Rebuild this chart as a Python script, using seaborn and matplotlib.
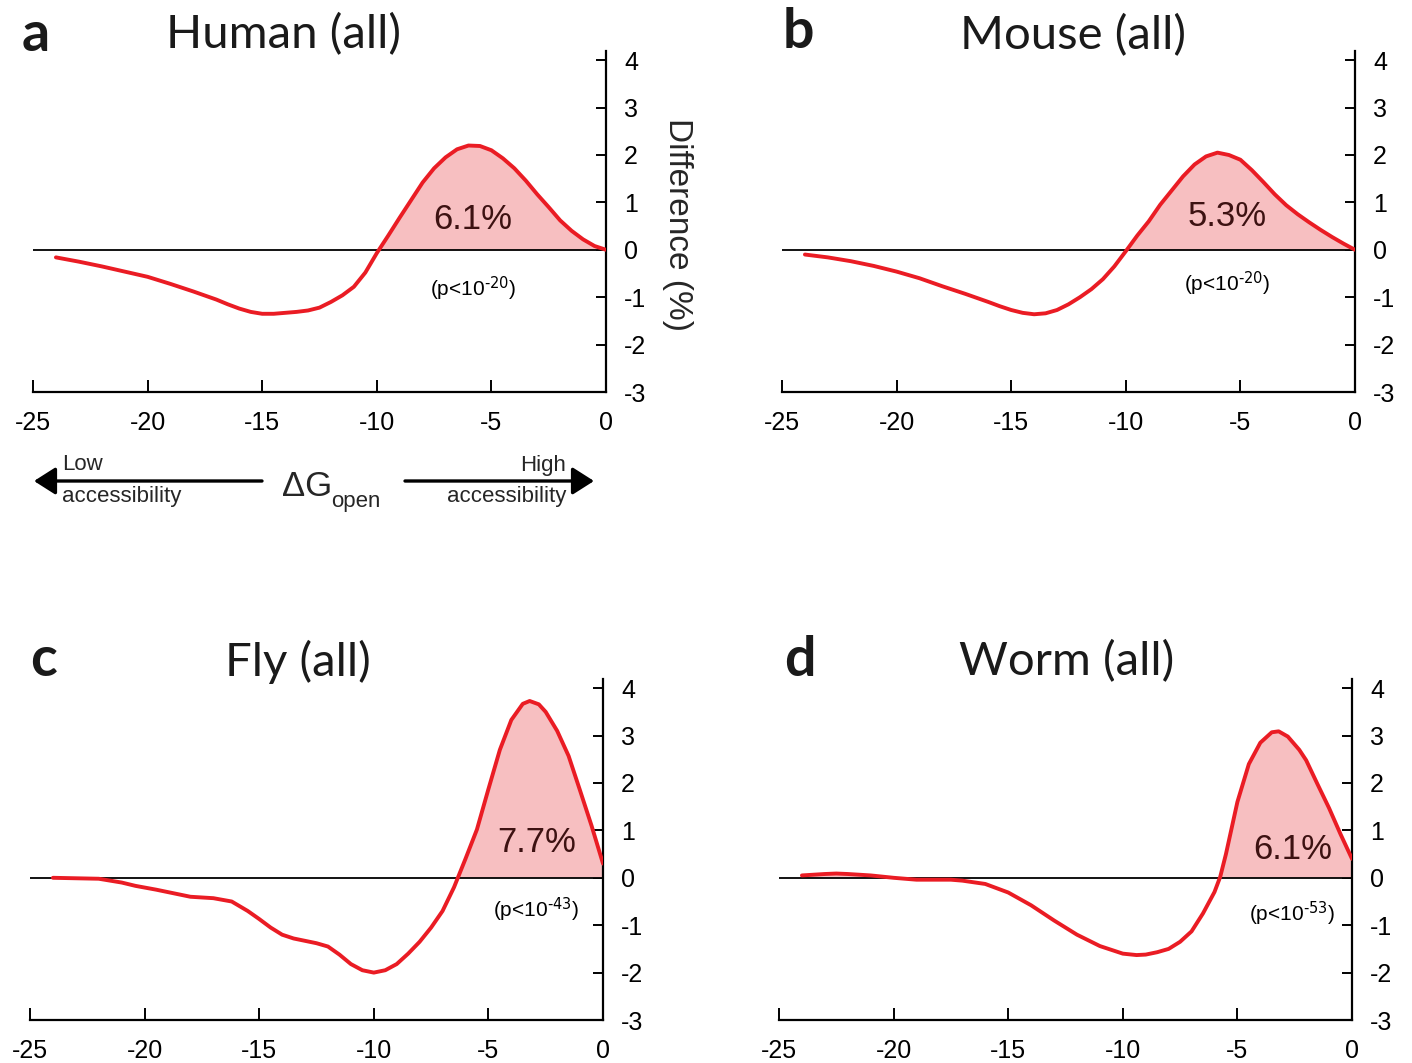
import numpy as np
import pandas as pd
import matplotlib
matplotlib.use('Agg')
import matplotlib.pyplot as plt
import seaborn as sns

# Valores (dG_open vs diferencia en %)
human_x = [-24, -23, -22, -21, -20, -19, -18, -17, -16.5, -16, -15.5, -15, -14.5, -14,
           -13.5, -13, -12.5, -12, -11.5, -11, -10.5, -10, -9.5, -9, -8.5, -8, -7.5, -7,
           -6.5, -6, -5.5, -5, -4.5, -4, -3.5, -3, -2.5, -2, -1.5, -1, -0.5, 0]
human_y = [-0.16, -0.25, -0.35, -0.46, -0.57, -0.72, -0.88, -1.05, -1.15, -1.24, -1.31, -1.35,
           -1.35, -1.33, -1.31, -1.28, -1.22, -1.1, -0.96, -0.78, -0.48, -0.07, 0.3, 0.68,
           1.05, 1.42, 1.72, 1.95, 2.12, 2.2, 2.19, 2.1, 1.93, 1.72, 1.46, 1.17, 0.9, 0.62,
           0.4, 0.22, 0.08, 0.0]

mouse_x = [-24, -23, -22, -21, -20, -19, -18, -17, -16, -15.5, -15, -14.5, -14, -13.5, -13,
           -12.5, -12, -11.5, -11, -10.5, -10, -9.5, -9, -8.5, -8, -7.5, -7, -6.5, -6, -5.5,
           -5, -4.5, -4, -3.5, -3, -2.5, -2, -1.5, -1, -0.5, 0]
mouse_y = [-0.1, -0.16, -0.24, -0.34, -0.46, -0.6, -0.77, -0.93, -1.1, -1.19, -1.27, -1.33,
           -1.36, -1.34, -1.27, -1.15, -1.0, -0.83, -0.62, -0.35, -0.03, 0.3, 0.6, 0.95, 1.25,
           1.55, 1.8, 1.97, 2.05, 2.0, 1.9, 1.68, 1.43, 1.17, 0.94, 0.75, 0.58, 0.42, 0.27,
           0.13, 0.0]

fly_x = [-24, -23, -22, -21, -20.4, -19.5, -19, -18, -17, -16.2, -15.5, -15, -14.5, -14,
         -13.5, -13, -12.5, -12, -11.5, -11, -10.5, -10, -9.5, -9, -8.5, -8, -7.5, -7, -6.5,
         -6, -5.5, -5, -4.5, -4, -3.5, -3.2, -2.8, -2.5, -2, -1.5, -1, -0.5, 0]
fly_y = [0.0, -0.01, -0.02, -0.1, -0.17, -0.25, -0.3, -0.4, -0.43, -0.5, -0.7, -0.87, -1.05,
         -1.2, -1.28, -1.33, -1.38, -1.45, -1.62, -1.82, -1.95, -2.0, -1.95, -1.82, -1.6,
         -1.35, -1.05, -0.7, -0.2, 0.4, 1.02, 1.87, 2.7, 3.33, 3.67, 3.73, 3.66, 3.5, 3.1,
         2.57, 1.84, 1.1, 0.3]

worm_x = [-24, -23, -22.5, -22, -21, -20, -19, -18, -17.5, -17, -16, -15, -14, -13, -12,
          -11, -10, -9.4, -9, -8.5, -8, -7.5, -7, -6.5, -6, -5.75, -5.5, -5.25, -5, -4.5,
          -4, -3.5, -3.2, -2.8, -2.3, -2, -1.5, -1, -0.5, 0]
worm_y = [0.05, 0.08, 0.09, 0.08, 0.05, 0.0, -0.04, -0.04, -0.04, -0.06, -0.13, -0.31, -0.58,
          -0.9, -1.2, -1.44, -1.6, -1.63, -1.62, -1.57, -1.5, -1.35, -1.13, -0.75, -0.3, 0.02,
          0.5, 1.05, 1.6, 2.4, 2.85, 3.07, 3.09, 2.98, 2.7, 2.48, 1.97, 1.47, 0.92, 0.4]

titulos = ['Human (all)', 'Mouse (all)', 'Fly (all)', 'Worm (all)']
letras = ['a', 'b', 'c', 'd']
porcentajes = ['6.1%', '5.3%', '7.7%', '6.1%']
pvalores = ['-20', '-20', '-43', '-53']
pos_pct = [(-5.8, 0.63), (-5.6, 0.7), (-2.9, 0.74), (-2.6, 0.59)]
pos_p = [(-5.8, -0.82), (-5.6, -0.72), (-2.9, -0.67), (-2.6, -0.76)]

sns.set_style('white')
plt.rcParams['font.family'] = ['Liberation Sans Narrow', 'Liberation Sans', 'DejaVu Sans']
plt.rcParams['mathtext.default'] = 'regular'

fig = plt.figure(figsize=(14.12, 10.63), dpi=100)
W, H = 1412, 1063

# posiciones de los ejes en pixeles: (izquierda, y de -3)
cajas = [(33, 392), (782, 392), (30, 1020), (779, 1020)]
ancho = 573
alto = 7.2 * 47.4

curvas = [(human_x, human_y), (mouse_x, mouse_y), (fly_x, fly_y), (worm_x, worm_y)]
rojo = '#ea1c24'
rosa = '#f7bfc1'

for i, (xs, ys) in enumerate(curvas):
    izq, base = cajas[i]
    ax = fig.add_axes([izq / W, (H - base) / H, ancho / W, alto / H])
    df = pd.DataFrame({'dG': xs, 'diff': ys})
    x = np.array(xs)
    y = np.array(ys)
    ax.fill_between(x, y, 0, where=y >= 0, interpolate=True, color=rosa, lw=0, zorder=1)
    ax.axhline(0, color='black', lw=1.3, zorder=2)
    sns.lineplot(data=df, x='dG', y='diff', ax=ax, color=rojo, lw=2.8, zorder=3)
    ax.set_xlim(-25, 0)
    ax.set_ylim(-3, 4.2)
    ax.set_xlabel('')
    ax.set_ylabel('')
    ax.set_xticks([-25, -20, -15, -10, -5, 0])
    ax.set_xticklabels(['-25', '-20', '-15', '-10', '-5', '0'])
    ax.set_yticks([-3, -2, -1, 0, 1, 2, 3, 4])
    ax.set_yticklabels(['-3', '-2', '-1', '0', '1', '2', '3', '4'])
    ax.yaxis.tick_right()
    for s in ['left', 'top']:
        ax.spines[s].set_visible(False)
    for s in ['right', 'bottom']:
        ax.spines[s].set_color('black')
        ax.spines[s].set_linewidth(1.6)
    ax.tick_params(axis='x', direction='in', length=9, width=1.4, pad=14, labelsize=18,
                   bottom=True, colors='black')
    ax.tick_params(axis='y', direction='in', length=7, width=1.4, pad=13, labelsize=18,
                   right=True, left=False, colors='black')
    ax.patch.set_alpha(0)

    px, py = pos_pct[i]
    ax.text(px, py, porcentajes[i], ha='center', va='center', fontsize=25,
            color='#3d1212', family=['Liberation Sans', 'DejaVu Sans'], zorder=4)
    qx, qy = pos_p[i]
    ax.text(qx, qy, '(p<10$^{\\text{' + pvalores[i] + '}}$)', ha='center', va='center',
            fontsize=15, color='black', zorder=4)

# titulos y letras de panel
pos_titulo = [(284, 35), (1073, 36), (298, 662), (1067, 662)]
pos_letra = [(36, 35), (798, 32), (43, 660), (800, 660)]
for i in range(4):
    tx, ty = pos_titulo[i]
    fig.text(tx / W, 1 - ty / H, titulos[i], ha='center', va='center', fontsize=34,
             family=['Lato', 'DejaVu Sans'], color='#1a1a1a')
    lx, ly = pos_letra[i]
    fig.text(lx / W, 1 - ly / H, letras[i], ha='center', va='center', fontsize=40,
             fontweight='bold', family=['Lato', 'DejaVu Sans'], color='#1a1a1a')

fig.text(677 / W, 1 - 225 / H, 'Difference (%)', ha='center', va='center', rotation=270,
         fontsize=24, family=['Liberation Sans', 'DejaVu Sans'])

# flechas de accesibilidad
estilo = '-|>,head_length=1.1,head_width=0.7'
fig.add_artist(matplotlib.patches.FancyArrowPatch(
    (262 / W, 1 - 481 / H), (34 / W, 1 - 481 / H), transform=fig.transFigure,
    arrowstyle=estilo, mutation_scale=12, lw=2.4, color='black', shrinkA=0, shrinkB=0))
fig.add_artist(matplotlib.patches.FancyArrowPatch(
    (405 / W, 1 - 481 / H), (594 / W, 1 - 481 / H), transform=fig.transFigure,
    arrowstyle=estilo, mutation_scale=12, lw=2.4, color='black', shrinkA=0, shrinkB=0))
fig.text(62 / W, 1 - 465 / H, 'Low', ha='left', va='center', fontsize=16)
fig.text(62 / W, 1 - 497 / H, 'accessibility', ha='left', va='center', fontsize=16)
fig.text(566 / W, 1 - 465 / H, 'High', ha='right', va='center', fontsize=16)
fig.text(566 / W, 1 - 497 / H, 'accessibility', ha='right', va='center', fontsize=16)
fig.text(307 / W, 1 - 486 / H, '\u0394G', ha='center', va='center', fontsize=25)
fig.text(356 / W, 1 - 502 / H, 'open', ha='center', va='center', fontsize=16)

fig.savefig('out.png', dpi=100, facecolor='white')
